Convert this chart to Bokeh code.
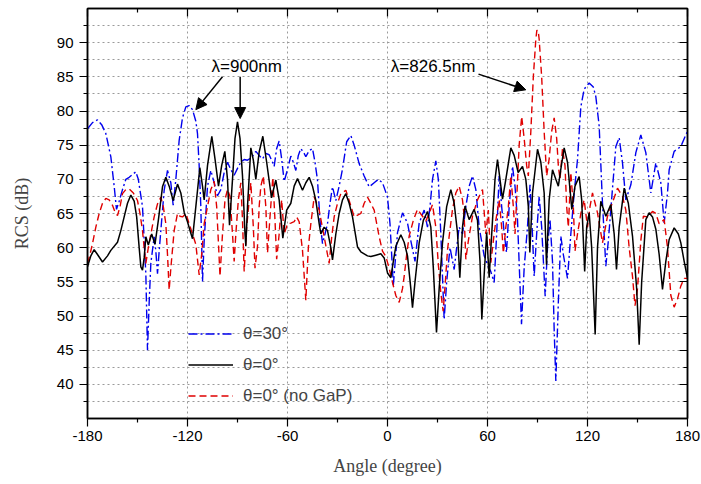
from bokeh.plotting import figure
from bokeh.models import (Range1d, FixedTicker, LinearAxis, Legend, LegendItem,
                          Label, Arrow, NormalHead)
from bokeh.embed import file_html
from bokeh.resources import INLINE

# ---------------- data ----------------
black_angle = [
    -180, -178, -176, -174, -171, -168, -166, -162, -160, -158,
    -156, -154, -152, -150.5, -149, -148, -147, -146, -145, -143.5,
    -141.5, -139.5, -137.5, -135, -133, -131, -128.6, -126, -124, -122,
    -120, -118.5, -117, -115, -112.6, -111, -110, -108, -105.4, -103.5,
    -101.4, -99.5, -97.6, -96, -94.8, -93, -91.5, -90, -88.5, -87,
    -85.5, -85, -84, -82, -80.5, -79, -77, -74.8, -72.5, -69.6,
    -67, -65, -62.8, -60.5, -58, -56, -54, -51, -49, -47,
    -45, -43, -41, -40, -38, -36, -34, -33, -31, -29,
    -27, -25, -23, -21, -18, -16, -14, -12, -10, -7,
    -4, -2, 0, 2, 3.5, 5, 8, 10, 12, 14,
    15, 16.5, 19, 21.5, 24, 26, 27.5, 29.4, 31, 33,
    35.5, 38, 40, 42, 43.4, 45, 46.5, 49, 52, 54,
    55.5, 56.6, 58, 59.5, 61, 63, 64.5, 66, 67.5, 69,
    71, 74, 76, 78.4, 81, 83, 84.5, 85.4, 87, 90,
    92, 94, 95.4, 97, 99, 101, 102.5, 104, 106, 108,
    110.6, 112.5, 115, 116.5, 118.3, 119.5, 121, 122.5, 124.6, 126,
    128, 131, 134, 136, 137.4, 139, 142, 144.5, 147, 149.5,
    151, 152.5, 155, 157, 159, 161, 163, 165, 167, 169,
    172, 174.5, 176, 178, 180]
black_rcs = [
    57.2, 58.8, 59.7, 59.0, 57.9, 58.8, 59.6, 60.8, 62.5, 64.5,
    66.5, 67.7, 66.8, 64.5, 60.0, 57.2, 56.7, 58.5, 61.6, 60.4,
    62.0, 60.5, 64.0, 68.9, 70.3, 69.0, 66.9, 69.3, 68.0, 65.2,
    63.8, 62.5, 61.3, 66.0, 71.7, 69.0, 67.0, 72.0, 76.3, 73.0,
    69.0, 72.0, 74.1, 70.0, 63.3, 70.0, 76.0, 78.4, 76.0, 70.5,
    62.0, 60.2, 66.0, 74.6, 72.8, 70.0, 74.0, 76.3, 72.5, 67.3,
    69.9, 67.0, 61.4, 65.5, 66.5, 69.0, 70.1, 68.4, 69.5, 70.3,
    69.0, 66.9, 63.5, 62.0, 63.0, 62.5, 60.0, 58.2, 62.0, 65.0,
    67.0, 67.9, 66.5, 64.5, 60.1, 59.4, 59.1, 58.8, 58.7, 58.9,
    59.1, 58.5, 56.3, 55.6, 58.0, 60.2, 61.9, 60.8, 58.8, 54.0,
    51.2, 55.0, 60.7, 64.0, 65.3, 63.0, 57.0, 47.6, 54.0, 60.7,
    66.0, 68.5, 66.5, 62.2, 55.6, 63.0, 66.1, 64.1, 65.6, 64.0,
    58.0, 49.5, 56.0, 62.2, 55.6, 64.0, 70.0, 72.9, 70.0, 67.1,
    70.0, 74.6, 73.5, 71.0, 71.9, 70.0, 66.0, 59.3, 68.0, 74.4,
    72.5, 68.0, 57.5, 67.0, 71.4, 70.0, 69.0, 71.5, 74.6, 72.5,
    65.6, 69.0, 70.4, 67.0, 56.5, 63.0, 65.1, 60.0, 47.3, 60.0,
    66.8, 64.6, 66.3, 62.0, 56.8, 63.0, 68.7, 66.5, 61.7, 54.0,
    45.8, 55.0, 64.1, 65.1, 64.5, 62.7, 59.0, 53.9, 58.0, 61.2,
    62.9, 62.0, 60.7, 58.0, 55.5]

blue_angle = [
    -180, -177, -174, -171.5, -169, -166, -164, -162.6, -161, -159,
    -157, -155, -153, -151, -149.5, -147, -145, -144, -143, -142,
    -140, -139, -138, -137, -135.5, -134, -132, -130, -128.6, -127,
    -125, -123, -121, -119, -117, -115, -114, -113, -112, -111,
    -110, -109, -108, -106, -104, -102, -100, -98, -96, -94,
    -92, -90, -88, -86, -84, -81.5, -79, -77, -75, -73,
    -71, -69, -68, -66.5, -65, -63.5, -62, -60.5, -58, -56.5,
    -55, -53.5, -52, -50, -49, -47, -45, -43.5, -42, -40.5,
    -39, -37.5, -36, -34.5, -33, -31, -29, -27, -24.5, -22,
    -20, -17, -14, -11, -8, -5.5, -3, 0, 1.5, 3.5,
    6, 9, 12, 14, 16.5, 19, 22, 24, 25.5, 27,
    29, 30.5, 32, 34, 35.5, 37.5, 40, 41.5, 43, 45,
    47, 49, 51, 53, 55, 58, 60, 62, 64, 65.5,
    67, 68.5, 70, 71.4, 73, 75, 76.5, 78, 80.4, 82,
    84, 85.5, 86.8, 88, 89.5, 91, 92.5, 94.6, 96, 97.5,
    99, 100, 101, 102.5, 104, 105.5, 108, 110, 112, 114,
    116, 118, 121, 123.5, 125, 127, 129, 131, 132.5, 134,
    137, 139, 141, 143, 146, 149, 152, 155, 158, 161,
    164, 166, 168, 169, 172, 176, 179, 180]
blue_rcs = [
    77.4, 78.3, 78.7, 78.0, 76.7, 73.3, 69.0, 65.6, 66.8, 68.5,
    70.0, 70.3, 70.7, 71.1, 70.0, 66.0, 56.2, 45.0, 52.0, 57.7,
    61.6, 59.5, 56.2, 59.5, 64.0, 68.4, 71.3, 69.5, 66.2, 70.0,
    75.7, 79.0, 80.6, 80.8, 80.2, 78.5, 76.7, 72.0, 66.0, 55.0,
    61.0, 65.0, 69.0, 71.3, 69.5, 67.6, 68.5, 71.0, 72.5, 71.4,
    70.6, 71.6, 72.5, 72.9, 72.8, 73.2, 74.1, 73.5, 73.0, 73.8,
    73.6, 72.5, 71.9, 74.5, 75.6, 73.0, 69.7, 71.0, 73.4, 72.5,
    71.3, 73.5, 74.5, 73.8, 73.3, 74.2, 74.5, 72.5, 69.9, 64.0,
    60.6, 62.0, 63.5, 66.5, 68.9, 66.9, 69.0, 71.5, 75.5, 76.4,
    75.0, 72.3, 70.5, 68.9, 69.5, 70.0, 69.5, 67.4, 63.5, 54.5,
    62.2, 65.1, 63.6, 61.0, 58.0, 63.6, 65.5, 63.0, 66.0, 70.0,
    72.7, 70.0, 62.0, 49.5, 55.0, 60.0, 56.8, 60.0, 63.0, 62.0,
    66.0, 69.0, 70.5, 68.5, 63.0, 58.8, 57.5, 56.5, 54.9, 62.0,
    70.5, 66.0, 62.2, 59.3, 66.0, 71.9, 69.0, 64.1, 48.8, 57.0,
    63.1, 69.2, 63.0, 55.8, 62.0, 67.5, 63.0, 52.9, 60.0, 64.1,
    58.0, 48.0, 40.5, 52.0, 61.7, 59.0, 55.5, 62.0, 68.0, 72.9,
    80.6, 83.2, 84.1, 83.5, 82.1, 77.8, 66.5, 57.3, 61.0, 65.6,
    74.8, 76.1, 72.4, 67.0, 69.2, 73.9, 76.5, 73.9, 68.0, 72.4,
    69.5, 63.6, 68.0, 71.4, 74.1, 74.8, 76.5, 77.0]

red_angle = [
    -180, -178.5, -177, -175, -173, -171, -169, -167, -165, -163.5,
    -162, -160.5, -159, -157, -155, -152.5, -150, -148.5, -147, -146,
    -145, -143.5, -142, -140, -138, -136, -134.5, -133, -132, -131,
    -130, -128, -126, -124.5, -123, -121, -119, -117, -115, -113,
    -111.5, -110, -108, -106, -104, -102.5, -101.5, -100.5, -99, -97.5,
    -96, -94.5, -93, -92, -91, -89.5, -88, -87, -86, -84.5,
    -82, -80.5, -79.5, -78, -77, -76, -74.5, -73, -72, -70.5,
    -68.8, -67.5, -66.5, -65, -63.5, -62, -60, -58, -56, -54.5,
    -53, -51, -49, -47.5, -46, -44, -42.5, -41, -38, -35,
    -33.5, -32, -30, -28, -25, -22.5, -20, -16, -14, -12,
    -10, -8, -5, -3, -1, 1, 3, 5, 7, 9,
    10, 11.5, 13, 15.5, 18, 21, 23, 25, 27, 29,
    30.5, 32, 33.4, 35, 36, 39, 41, 43, 45, 46,
    47, 48.5, 51, 54, 57, 59, 60.5, 62, 63.5, 65,
    67, 68.5, 69.5, 71, 72.5, 74, 75.5, 76.5, 77.5, 79,
    80.5, 82, 83.5, 84.5, 86, 87.5, 89, 89.6, 90.4, 91,
    92.5, 94, 95.5, 97, 98.5, 100, 101.5, 102.5, 103.5, 105,
    106.5, 107.5, 108.5, 110, 111.5, 112.5, 114, 116, 118, 120,
    121.5, 123, 126, 129, 132, 135, 138, 141, 143, 145,
    147, 148.5, 150, 152, 153.5, 156, 159, 161, 163, 166,
    168, 170, 172, 174, 176, 178, 180]
red_rcs = [
    57.7, 59.0, 60.6, 63.0, 65.0, 66.5, 67.2, 67.0, 66.2, 65.2,
    64.7, 66.0, 67.9, 68.5, 68.6, 68.0, 66.9, 65.0, 62.5, 60.0,
    57.7, 60.0, 62.0, 64.5, 66.4, 67.4, 66.0, 63.5, 59.0, 53.8,
    57.0, 62.5, 65.0, 64.6, 64.5, 65.0, 63.5, 62.0, 60.5, 56.0,
    59.0, 63.5, 66.0, 68.5, 69.7, 66.0, 61.0, 55.8, 62.0, 67.0,
    68.5, 67.5, 62.0, 58.0, 62.0, 67.0, 69.5, 64.0, 56.5, 63.0,
    69.5, 63.0, 57.0, 60.2, 66.0, 69.0, 70.5, 66.0, 59.2, 64.5,
    70.3, 64.0, 58.3, 62.0, 67.0, 62.0, 63.5, 63.6, 63.8, 64.5,
    63.8, 59.6, 52.3, 60.0, 63.5, 67.4, 66.5, 65.5, 61.6, 57.7,
    61.5, 64.5, 66.5, 67.9, 68.4, 66.5, 64.5, 65.0, 66.5, 67.4,
    66.5, 65.5, 61.6, 59.5, 58.7, 57.0, 54.9, 53.0, 52.0, 54.0,
    55.8, 59.0, 61.7, 64.0, 65.6, 64.6, 63.9, 65.0, 66.3, 63.0,
    57.5, 53.4, 50.7, 56.0, 59.7, 65.6, 68.0, 69.0, 67.0, 64.6,
    58.3, 61.0, 64.6, 67.0, 68.5, 62.0, 65.5, 57.8, 61.0, 64.0,
    67.0, 63.0, 59.2, 63.0, 66.0, 70.5, 66.0, 62.0, 67.0, 75.0,
    79.2, 76.0, 72.0, 70.5, 77.0, 85.0, 90.5, 91.8, 91.8, 90.5,
    85.0, 77.0, 70.5, 73.0, 77.0, 79.0, 76.0, 72.0, 70.0, 74.5,
    72.0, 66.0, 63.0, 71.0, 66.0, 59.5, 62.0, 65.0, 67.0, 63.0,
    66.0, 68.0, 65.1, 60.7, 64.6, 66.6, 68.7, 67.5, 65.5, 60.0,
    55.8, 51.5, 54.0, 61.0, 64.6, 64.5, 65.3, 65.0, 63.5, 64.1,
    60.0, 53.0, 51.3, 52.5, 54.4, 55.5, 55.5]

series_labels = ["\u03b8=30\u00b0", "\u03b8=0\u00b0", "\u03b8=0\u00b0 (no GaP)"]
x_ticks = [-180, -120, -60, 0, 60, 120, 180]
x_tick_labels = ["-180", "-120", "-60", "0", "60", "120", "180"]
x_minor = [-150, -90, -30, 30, 90, 150]
y_ticks = [40, 45, 50, 55, 60, 65, 70, 75, 80, 85, 90]
y_minor = [37.5, 42.5, 47.5, 52.5, 57.5, 62.5, 67.5, 72.5, 77.5, 82.5, 87.5, 92.5]
annot_900 = "\u03bb=900nm"
annot_826 = "\u03bb=826.5nm"

# ---------------- figure ----------------
SANS = "Liberation Sans"
SERIF = "Liberation Serif"

p = figure(width=701, height=484, x_range=Range1d(-180, 180), y_range=Range1d(35, 95),
           output_backend="svg", toolbar_location=None,
           min_border_left=87, min_border_right=14, min_border_top=8, min_border_bottom=66,
           background_fill_color="white", border_fill_color="white")
p.outline_line_color = "black"
p.outline_line_width = 1.5

xt = FixedTicker(ticks=x_ticks, minor_ticks=x_minor)
yt = FixedTicker(ticks=y_ticks, minor_ticks=y_minor)

def style_axis(ax, inward):
    ax.axis_line_color = "black"
    ax.axis_line_width = 1.5
    ax.major_tick_line_color = "black"
    ax.minor_tick_line_color = "black"
    ax.major_tick_line_width = 1.2
    ax.minor_tick_line_width = 1.2
    if inward:
        ax.major_tick_in, ax.major_tick_out = 8, 0
        ax.minor_tick_in, ax.minor_tick_out = 4, 0
    else:
        ax.major_tick_in, ax.major_tick_out = 0, 8
        ax.minor_tick_in, ax.minor_tick_out = 0, 4
    ax.major_label_text_font = SANS
    ax.major_label_text_font_size = "15px"
    ax.major_label_text_color = "black"

xa = p.xaxis[0]
xa.ticker = xt
xa.major_label_overrides = {t: s for t, s in zip(x_ticks, x_tick_labels)}
style_axis(xa, False)
xa.major_label_standoff = 4
xa.axis_label = "Angle (degree)"
xa.axis_label_text_font = SERIF
xa.axis_label_text_font_style = "normal"
xa.axis_label_text_font_size = "18px"
xa.axis_label_standoff = 12

ya = p.yaxis[0]
ya.ticker = yt
style_axis(ya, False)
ya.major_label_standoff = 6
ya.axis_label = "RCS (dB)"
ya.axis_label_text_font = SERIF
ya.axis_label_text_font_style = "normal"
ya.axis_label_text_font_size = "18px"
ya.axis_label_standoff = 22

# mirrored axes (ticks only, pointing inward, no labels)
top = LinearAxis(ticker=xt)
style_axis(top, True)
top.major_label_text_alpha = 0
top.major_label_text_font_size = "1px"
top.major_label_standoff = 0
top.major_label_overrides = {t: "" for t in x_ticks}
p.add_layout(top, "above")
right = LinearAxis(ticker=yt)
style_axis(right, True)
right.major_label_text_alpha = 0
right.major_label_text_font_size = "1px"
right.major_label_standoff = 0
right.major_label_overrides = {t: "" for t in y_ticks}
p.add_layout(right, "right")

p.xgrid.ticker = xt
p.ygrid.ticker = yt
for g in (p.xgrid, p.ygrid):
    g.grid_line_color = "#9a9a9a"
    g.grid_line_dash = "2 3"
    g.grid_line_width = 1
p.ygrid.minor_grid_line_color = "#9a9a9a"
p.ygrid.minor_grid_line_dash = "2 3"
p.ygrid.minor_grid_line_width = 1

r_blue = p.line(blue_angle, blue_rcs, line_color="#0000ee", line_width=1.4, line_dash="9 3 2 3")
r_red = p.line(red_angle, red_rcs, line_color="#e00000", line_width=1.4, line_dash="7 4")
r_black = p.line(black_angle, black_rcs, line_color="black", line_width=1.5)

legend = Legend(items=[LegendItem(label=series_labels[0], renderers=[r_blue]),
                       LegendItem(label=series_labels[1], renderers=[r_black]),
                       LegendItem(label=series_labels[2], renderers=[r_red])],
                location=(101, 12), orientation="vertical",
                border_line_alpha=0, background_fill_alpha=0, padding=0, margin=0,
                glyph_width=45, glyph_height=21, label_height=21, spacing=10,
                label_standoff=10, label_text_font=SANS, label_text_font_size="17px")
p.add_layout(legend)

p.add_layout(Label(x=-105.6, y=86.5, text=annot_900, text_baseline="middle",
                   text_font=SANS, text_font_size="17px", text_color="black"))
p.add_layout(Label(x=2.0, y=86.5, text=annot_826, text_baseline="middle",
                   text_font=SANS, text_font_size="17px", text_color="black"))

def arrow(x0, y0, x1, y1):
    return Arrow(x_start=x0, y_start=y0, x_end=x1, y_end=y1, line_width=1.5,
                 line_color="black",
                 end=NormalHead(size=11, fill_color="black", line_color="black"))

p.add_layout(arrow(-99, 85, -115, 80.2))
p.add_layout(arrow(-88.4, 85, -88.4, 78.9))
p.add_layout(arrow(54.6, 85.4, 83, 83.1))

open("out.html", "w").write(file_html(p, INLINE))
